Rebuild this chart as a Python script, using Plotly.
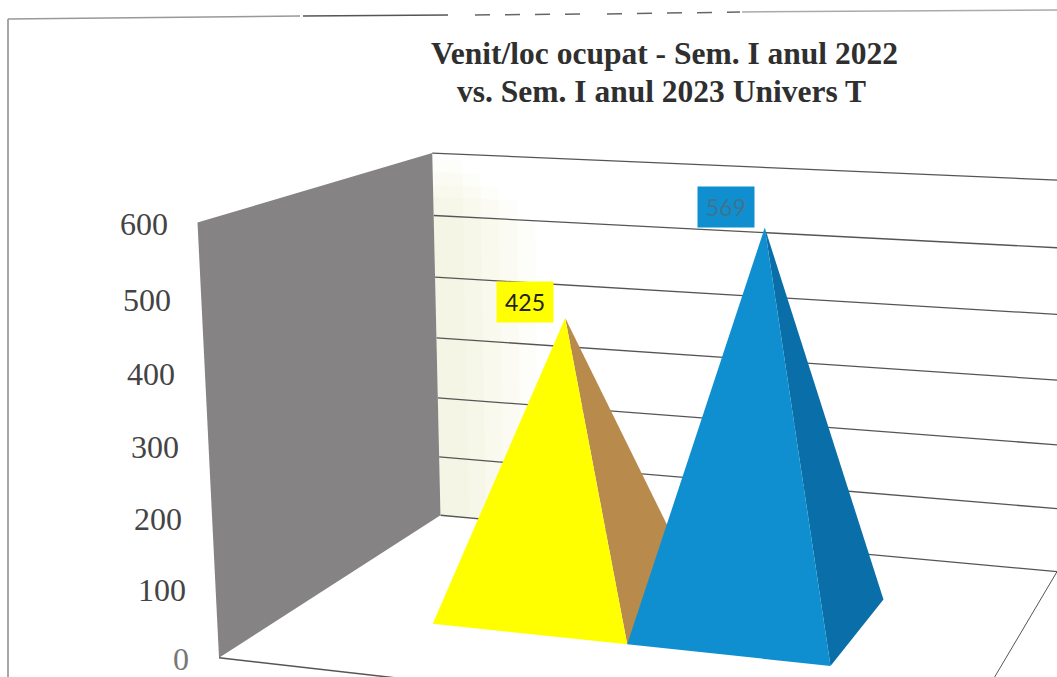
import numpy as np
import plotly.graph_objects as go

# ---- data ----
categories = ["Sem. I anul 2022", "Sem. I anul 2023"]
values = [425, 569]
tick_values = [0, 100, 200, 300, 400, 500, 600]
title_lines = ["Venit/loc ocupat - Sem. I anul 2022", "vs. Sem. I anul 2023 Univers T"]

# ---- colours ----
bar_front = ["#ffff00", "#0f8fcf"]
bar_side = ["#b88b4c", "#0a6fa8"]
label_bg = ["#ffff00", "#0f8fcf"]
label_fg = ["#222222", "#3f7390"]
label_offset = [(-40, -16), (-39, -21)]
wall_grey = "#858383"
grid_col = "#555555"

# ---- camera: world (X across, D depth, V value) -> page pixels, fitted by DLT ----
VMAX = 600.0
calib = [
    ((0, 1, 1), (433, 152)), ((0, 1, 0), (441, 515)),
    ((0, 0, 1), (197, 225)), ((0, 0, 0), (218, 657)),
    ((1, 1, 0), (1056, 574)), ((1, 1, 1), (1076, 180)),
    ((1, 0, 0), (958, 740)),
]
A = []
for (X, D, V), (u, v) in calib:
    A.append([X, D, V, 1, 0, 0, 0, 0, -u * X, -u * D, -u * V, -u])
    A.append([0, 0, 0, 0, X, D, V, 1, -v * X, -v * D, -v * V, -v])
P = np.linalg.svd(np.array(A, float))[2][-1].reshape(3, 4)


def proj(X, D, val):
    h = P @ np.array([X, D, val / VMAX, 1.0])
    return float(h[0] / h[2]), float(h[1] / h[2])


def poly(points, color):
    pts = [proj(*p) for p in points]
    xs = [p[0] for p in pts] + [pts[0][0]]
    ys = [p[1] for p in pts] + [pts[0][1]]
    return go.Scatter(x=xs, y=ys, mode="lines", fill="toself", fillcolor=color,
                      line=dict(width=0, color=color), hoverinfo="skip", showlegend=False)


def seg(a, b, color=grid_col, width=1.3):
    pa, pb = proj(*a), proj(*b)
    return go.Scatter(x=[pa[0], pb[0]], y=[pa[1], pb[1]], mode="lines",
                      line=dict(color=color, width=width), hoverinfo="skip", showlegend=False)


fig = go.Figure()

# faint scan tint on the back wall, feathered towards the right
for w, top in [(0.17, 500), (0.14, 530), (0.11, 550), (0.08, 570), (0.05, 590)]:
    fig.add_trace(poly([(0, 1, 0), (w, 1, 0), (w, 1, top), (0, 1, top)], "rgba(238,235,195,0.10)"))
# gridlines on the back wall
for t in tick_values:
    fig.add_trace(seg((0, 1, t), (1, 1, t)))
# left wall
fig.add_trace(poly([(0, 0, 0), (0, 1, 0), (0, 1, VMAX), (0, 0, VMAX)], wall_grey))
# floor edges
fig.add_trace(seg((0, 0, 0), (1, 0, 0), "#555555", 1.5))
fig.add_trace(seg((1, 0, 0), (1, 1, 0), "#555555", 1.0))

# pyramids
x_edges = [0.213, 0.50, 0.785]
d_front, d_back = 0.30, 0.71
for i, val in enumerate(values):
    x0, x1 = x_edges[i], x_edges[i + 1]
    apex = ((x0 + x1) / 2, (d_front + d_back) / 2, val)
    fig.add_trace(poly([(x1, d_front, 0), (x1, d_back, 0), apex], bar_side[i]))
    fig.add_trace(poly([(x0, d_front, 0), (x1, d_front, 0), apex], bar_front[i]))
    ax, ay = proj(*apex)
    fig.add_annotation(x=ax + label_offset[i][0], y=ay + label_offset[i][1], text=str(val),
                       showarrow=False, xref="x", yref="y",
                       bgcolor=label_bg[i], width=54, height=38, valign="middle",
                       font=dict(family="Lato", size=23, color=label_fg[i]))

# value labels along the wall's front edge
for t in tick_values:
    ex, ey = proj(0, 0, t)
    fig.add_annotation(x=ex - 28, y=ey + 1.5, text=str(t), showarrow=False, xanchor="right", xref="x", yref="y",
                       font=dict(family="Liberation Serif", size=32, color="#444444" if t else "#777777"))

# title, one annotation per line
for line, cx, cy in zip(title_lines, [664, 661], [53, 91]):
    fig.add_annotation(x=cx, y=cy, text=line, showarrow=False, xref="x", yref="y",
                       font=dict(family="Liberation Serif", size=31.5, color="#2f2f2f", weight="bold"))

shapes = [
    dict(type="line", x0=8, y0=19, x1=8, y1=677, line=dict(color="#8a8a8a", width=1.5)),
    dict(type="line", x0=8, y0=19, x1=300, y1=16, line=dict(color="#999999", width=1.5)),
    dict(type="line", x0=303, y0=16, x1=448, y1=15, line=dict(color="#555555", width=1.5)),
    dict(type="line", x0=475, y0=15, x1=590, y1=14, line=dict(color="#666666", width=1.5, dash="longdash")),
    dict(type="line", x0=607, y0=14, x1=740, y1=12, line=dict(color="#666666", width=1.5, dash="longdash")),
    dict(type="line", x0=742, y0=12, x1=1057, y1=10, line=dict(color="#aaaaaa", width=1.5)),
]

fig.update_layout(
    width=1057, height=677, margin=dict(l=0, r=0, t=0, b=0),
    paper_bgcolor="white", plot_bgcolor="white", showlegend=False, shapes=shapes,
    xaxis=dict(range=[0, 1057], visible=False, fixedrange=True),
    yaxis=dict(range=[677, 0], visible=False, fixedrange=True),
)

fig.write_html("out.html", config=dict(displayModeBar=False),
               post_script="document.body.style.margin='0';document.body.style.overflow='hidden';")
